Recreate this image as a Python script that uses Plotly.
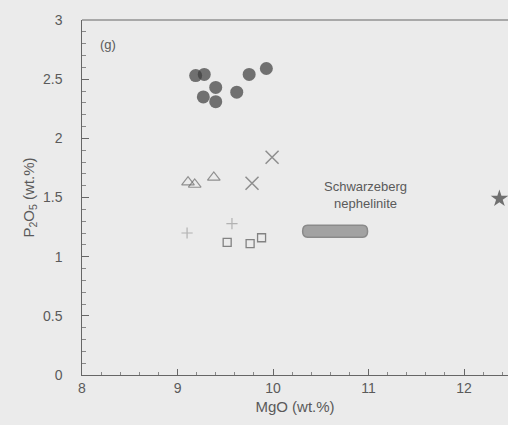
import plotly.graph_objects as go

# ---- data ----
circ_mgo = [9.19, 9.28, 9.40, 9.27, 9.40, 9.62, 9.75, 9.93]
circ_p2o5 = [2.53, 2.54, 2.43, 2.35, 2.31, 2.39, 2.54, 2.59]

tri_mgo = [9.11, 9.18, 9.38]
tri_p2o5 = [1.63, 1.61, 1.67]

x_mgo = [9.99, 9.78]
x_p2o5 = [1.84, 1.62]

plus_mgo = [9.10, 9.57]
plus_p2o5 = [1.20, 1.28]

sq_mgo = [9.52, 9.76, 9.88]
sq_p2o5 = [1.12, 1.11, 1.16]

star_mgo = [12.37]
star_p2o5 = [1.49]

neph_mgo_range = [10.31, 10.99]
neph_p2o5_range = [1.165, 1.265]
neph_label = "Schwarzeberg<br>nephelinite"
neph_label_pos = [10.97, 1.52]
panel_label = "(g)"
panel_label_pos = [8.27, 2.79]

# ---- per-group styles ----
groups = [
    (circ_mgo, circ_p2o5, "circle", 13, "#3c3c3c", 0),
    (tri_mgo, tri_p2o5, "triangle-up-open", 11, "#6a6a6a", 1.2),
    (x_mgo, x_p2o5, "x-thin-open", 13, "#666666", 1.5),
    (plus_mgo, plus_p2o5, "cross-thin-open", 8, "#9a9a9a", 1.2),
    (sq_mgo, sq_p2o5, "square-open", 8, "#555555", 1.3),
    (star_mgo, star_p2o5, "star", 13, "#3c3c3c", 0),
]
all_x, all_y, syms, sizes, cols, lws = [], [], [], [], [], []
for gx, gy, s, sz, c, lw in groups:
    all_x += gx
    all_y += gy
    syms += [s] * len(gx)
    sizes += [sz] * len(gx)
    cols += [c] * len(gx)
    lws += [lw] * len(gx)

txt = "#5a5a5a"
fnt = dict(family="Liberation Sans, Arial, sans-serif", size=14, color=txt)

fig = go.Figure()

# rounded field outline built from the field's ranges
x0, x1 = neph_mgo_range
y0, y1 = neph_p2o5_range
ym = (y0 + y1) / 2
rx = 0.05
path = (f"M {x0+rx},{y0} L {x1-rx},{y0} Q {x1},{y0} {x1},{ym} Q {x1},{y1} {x1-rx},{y1} "
        f"L {x0+rx},{y1} Q {x0},{y1} {x0},{ym} Q {x0},{y0} {x0+rx},{y0} Z")
fig.add_shape(type="path", xref="x", yref="y", path=path,
              fillcolor="#a2a2a2", line=dict(color="#8a8a8a", width=1.5))

# top frame line
fig.add_shape(type="line", xref="paper", yref="paper", x0=0, x1=1, y0=1, y1=1,
              line=dict(color="#666666", width=1.2))

fig.add_trace(go.Scatter(x=all_x, y=all_y, mode="markers",
                         marker=dict(symbol=syms, size=sizes, color=cols,
                                     line=dict(width=lws, color=cols))))

fig.add_annotation(x=neph_label_pos[0], y=neph_label_pos[1], text=neph_label,
                   showarrow=False, font=dict(fnt, size=13), align="center")
fig.add_annotation(x=panel_label_pos[0], y=panel_label_pos[1], text=panel_label,
                   showarrow=False, font=dict(fnt, size=13))

fig.update_layout(
    width=508, height=425,
    margin=dict(l=82, r=0, t=20, b=50),
    paper_bgcolor="#ebebeb", plot_bgcolor="rgba(0,0,0,0)",
    showlegend=False, font=fnt,
    xaxis=dict(range=[8, 12.46], tick0=8, dtick=1, ticks="inside", ticklen=6,
               tickcolor="#666666", showline=True, linecolor="#666666", linewidth=1.2,
               showgrid=False, zeroline=False,
               minor=dict(dtick=0.2, ticks="inside", ticklen=3,
                          tickcolor="#888888"),
               title=dict(text="MgO (wt.%)", standoff=6, font=dict(fnt, size=15))),
    yaxis=dict(range=[0, 3], dtick=0.5, ticks="inside", ticklen=7,
               tickcolor="#666666", showline=True, linecolor="#666666", linewidth=1.2,
               showgrid=False, zeroline=False, ticksuffix="    ",
               minor=dict(dtick=0.1, ticks="inside", ticklen=4,
                          tickcolor="#888888"),
               title=dict(text="P<sub>2</sub>O<sub>5</sub> (wt.%)", standoff=4,
                          font=dict(fnt, size=15))),
)

fig.write_html("out.html")
